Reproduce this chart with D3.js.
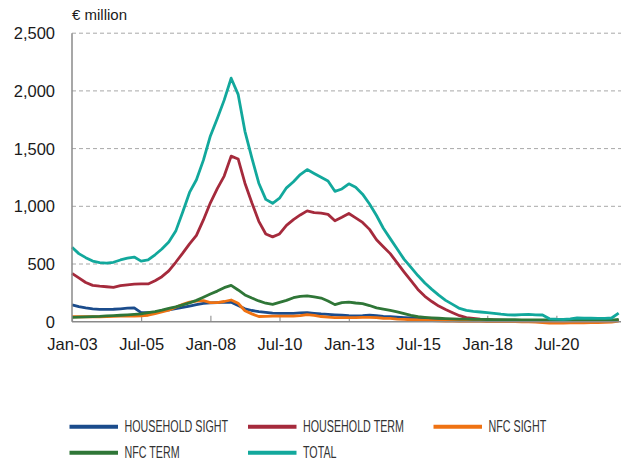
<!DOCTYPE html>
<html>
<head>
<meta charset="utf-8">
<script src="https://cdn.jsdelivr.net/npm/d3@7"></script>
<style>
  body { margin: 0; background: #fff; }
  text { font-family: "Liberation Sans", Arial, Helvetica, sans-serif; }
</style>
</head>
<body>
<div id="chart"></div>
<script>
//Quarterly readings, first one is Jan-03, one value every 3 months
var firstMonth = new Date(2003, 0, 1)
var lastMonth = new Date(2022, 10, 1)

var householdSight = [145,130,120,112,107,107,108,112,117,120,78,78,83,93,103,114,125,135,148,159,
  163,166,170,168,140,112,97,87,80,74,73,73,73,76,78,72,67,64,60,56,
  52,50,52,56,52,46,43,39,35,32,28,25,22,20,18,17,16,15,14,13,
  13,12,12,11,11,10,10,10,10,9,9,9,8,8,8,8,8,9,10,12]

var householdTerm = [419,380,340,315,308,303,298,312,320,325,327,327,355,390,440,515,594,675,748,882,
  1030,1153,1262,1435,1410,1200,1030,870,760,735,760,835,885,925,960,945,940,930,875,905,
  938,900,860,800,710,650,590,510,430,355,280,220,175,135,105,78,52,35,28,22,
  18,15,13,12,10,10,9,8,7,6,5,5,5,5,5,5,5,6,8,12]

var nfcSight = [43,43,43,43,43,45,47,49,49,49,50,56,70,85,100,125,150,170,178,182,
  165,165,175,188,160,95,68,45,46,49,49,49,49,52,62,55,45,40,36,35,
  35,35,37,37,35,30,28,23,20,17,15,12,10,8,6,5,4,3,2,2,
  1,1,0,0,0,-1,-2,-3,-8,-12,-12,-12,-10,-10,-10,-8,-8,-6,-4,5]

var nfcTerm = [38,40,42,44,46,50,53,56,60,64,68,78,87,100,115,128,145,163,185,212,
  240,265,295,315,275,232,205,180,160,150,168,185,208,220,223,215,205,180,148,165,
  170,162,157,140,120,110,98,85,70,55,43,38,34,30,27,25,23,22,21,20,
  19,18,18,17,17,16,16,16,15,15,14,14,14,13,13,13,13,13,14,20]

var total = [645,590,555,525,512,507,515,535,550,560,525,535,580,630,690,785,950,1120,1230,1400,
  1610,1760,1920,2110,1970,1650,1420,1200,1060,1026,1070,1160,1213,1275,1318,1285,1252,1220,1130,1150,
  1195,1165,1105,1020,920,810,720,630,540,470,400,335,280,230,185,150,115,98,90,84,
  78,73,65,60,58,62,63,60,58,25,22,21,25,32,30,30,29,29,32,75]

var seriesNames = ["HOUSEHOLD SIGHT", "HOUSEHOLD TERM", "NFC SIGHT", "NFC TERM", "TOTAL"]
var seriesColors = ["#1b4c8c", "#a52a3c", "#ef7212", "#2f7637", "#12a89c"]
var seriesValues = [householdSight, householdTerm, nfcSight, nfcTerm, total]

var yTicks = [0, 500, 1000, 1500, 2000, 2500]
var xTickLabels = ["Jan-03", "Jul-05", "Jan-08", "Jul-10", "Jan-13", "Jul-15", "Jan-18", "Jul-20"]

var width = 621
var height = 461
var margin = {top: 33.2, left: 72, right: 0, bottom: 139.3}

var svg = d3.select("#chart")
  .append("svg")
  .attr("width", width)
  .attr("height", height)

var parseLabel = d3.timeParse("%b-%y")

var x = d3.scaleTime()
  .domain([firstMonth, lastMonth])
  .range([margin.left, width - margin.right])

var y = d3.scaleLinear()
  .domain([0, 2500])
  .range([height - margin.bottom, margin.top])

//Grid lines, dashed
svg.append("g")
  .selectAll("line")
  .data(yTicks.filter(function(d){return d > 0}))
  .enter()
  .append("line")
  .attr("x1", margin.left)
  .attr("x2", width)
  .attr("y1", function(d){return y(d)})
  .attr("y2", function(d){return y(d)})
  .attr("stroke", "#a8a8a8")
  .attr("stroke-width", 1)
  .attr("stroke-dasharray", "4,3")

//Y axis labels
svg.append("g")
  .selectAll("text")
  .data(yTicks)
  .enter()
  .append("text")
  .attr("x", 55)
  .attr("y", function(d){return y(d)})
  .attr("dy", "0.36em")
  .attr("text-anchor", "end")
  .attr("font-size", "16.5px")
  .attr("fill", "#1a1a1a")
  .text(function(d){return d3.format(",")(d)})

svg.append("text")
  .attr("x", 72)
  .attr("y", 20)
  .attr("font-size", "15px")
  .attr("fill", "#1a1a1a")
  .text("€ million")

//X axis with inner ticks
var xAxis = d3.axisBottom(x)
  .tickValues(xTickLabels.map(function(d){return parseLabel(d)}))
  .tickSize(-6)
  .tickFormat(d3.timeFormat("%b-%y"))

var gx = svg.append("g")
  .attr("transform", "translate(0," + y(0) + ")")
  .call(xAxis)

gx.select(".domain").remove()
gx.selectAll(".tick line").attr("stroke", "#9a9a9a").attr("stroke-width", 1.2)
gx.selectAll(".tick text")
  .attr("y", 17)
  .attr("dy", "0.71em")
  .attr("font-family", "Liberation Sans, Arial, sans-serif")
  .attr("font-size", "16.5px")
  .attr("fill", "#1a1a1a")

//Series lines
var line = d3.line()
  .x(function(d, i){return x(d3.timeMonth.offset(firstMonth, i * 3))})
  .y(function(d){return y(d)})

svg.append("g")
  .selectAll("path")
  .data(seriesValues)
  .enter()
  .append("path")
  .attr("d", function(d){return line(d)})
  .attr("fill", "none")
  .attr("stroke", function(d, i){return seriesColors[i]})
  .attr("stroke-width", 2.8)
  .attr("stroke-linejoin", "round")

//Axis lines drawn on top
svg.append("line")
  .attr("x1", margin.left).attr("x2", margin.left)
  .attr("y1", y(2500)).attr("y2", y(0))
  .attr("stroke", "#8a8a8a").attr("stroke-width", 1.5)

svg.append("line")
  .attr("x1", margin.left).attr("x2", width)
  .attr("y1", y(0)).attr("y2", y(0))
  .attr("stroke", "#8a8a8a").attr("stroke-width", 1.5)

//Legend, three columns
var legendX = [69.5, 248, 433.5]
var legendY = [426.7, 452.7]

var legend = svg.append("g")
  .selectAll("g")
  .data(seriesNames)
  .enter()
  .append("g")
  .attr("transform", function(d, i){
    return "translate(" + legendX[i % 3] + "," + legendY[Math.floor(i / 3)] + ")"
  })

legend.append("line")
  .attr("x1", 0)
  .attr("x2", 48.5)
  .attr("stroke", function(d, i){return seriesColors[i]})
  .attr("stroke-width", 4)

legend.append("text")
  .attr("transform", "translate(55,5.6) scale(0.67,1)")
  .attr("font-size", "16px")
  .attr("fill", "#333")
  .text(function(d){return d})
</script>
</body>
</html>
